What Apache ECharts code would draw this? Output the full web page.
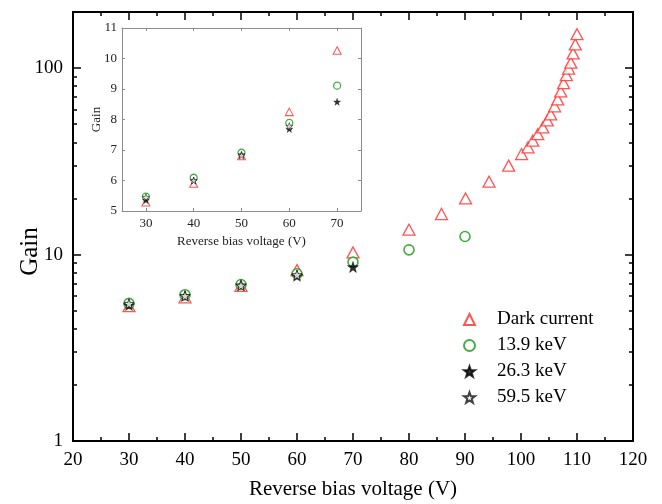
<!DOCTYPE html>
<html>
<head>
<meta charset="utf-8">
<script src="https://cdn.jsdelivr.net/npm/echarts@6/dist/echarts.min.js"></script>
<style>
  html, body { margin: 0; padding: 0; background: #fff; }
  #chart { width: 662px; height: 504px; }
</style>
</head>
<body>
<div id="chart"></div>
<script>
// Gain versus reverse bias voltage
const darkVoltage = [30, 40, 50, 60, 70, 80, 85.8, 90.1, 94.3, 97.8, 100.1, 101.25, 102.1, 103.0, 103.9,
  104.7, 105.3, 106.0, 106.55, 107.1, 107.6, 108.1, 108.5, 108.9, 109.3, 109.7, 110.0];
const darkGain = [5.29, 5.9, 6.8, 8.25, 10.26, 13.6, 16.5, 20.0, 24.6, 30.0, 34.6, 37.6, 40.8, 44.2, 48.1,
  52.4, 56.5, 62.4, 68, 75, 83, 91.6, 99.5, 107, 120, 134, 152];

const kev139Voltage = [30, 40, 50, 60, 70, 80, 90];
const kev139Gain = [5.47, 6.09, 6.91, 7.89, 9.11, 10.6, 12.5];

const kev263Voltage = [30, 40, 50, 60, 70];
const kev263Gain = [5.36, 6.0, 6.85, 7.69, 8.58];

const kev595Voltage = [30, 40, 50, 60];
const kev595Gain = [5.45, 6.0, 6.82, 7.78];

const seriesNames = ['Dark current', '13.9 keV', '26.3 keV', '59.5 keV'];

const mainYLabels = [1, 10, 100];
const mainYMinor = [2, 3, 4, 5, 6, 7, 8, 9, 20, 30, 40, 50, 60, 70, 80, 90];
const insetXTicks = [30, 40, 50, 60, 70];

const FONT = 'Liberation Serif';
const STAR = 'path://M0,-10L2.35,-3.24L9.51,-3.09L3.8,1.24L5.88,8.09L0,4L-5.88,8.09L-3.8,1.24L-9.51,-3.09L-2.35,-3.24Z';

function pairs(xs, ys, maxX) {
  const out = [];
  for (let i = 0; i < xs.length; i++) {
    if (maxX === undefined || xs[i] <= maxX) out.push([xs[i], ys[i]]);
  }
  return out;
}

const styles = [
  { symbol: 'triangle', itemStyle: { color: '#fff', borderColor: '#ff2a2a', borderWidth: 1.3 } },
  { symbol: 'circle', itemStyle: { color: '#fff', borderColor: '#149a14', borderWidth: 1.6 } },
  { symbol: STAR, itemStyle: { color: '#000', borderColor: '#000', borderWidth: 0.5 } },
  { symbol: STAR, itemStyle: { color: '#fff', borderColor: '#111', borderWidth: 0.9 } }
];
const mainSizes = [[12, 11], 10, 11, 10];
const insetSizes = [[8, 7.5], 7, 7, 7];
const dataSets = [
  [darkVoltage, darkGain],
  [kev139Voltage, kev139Gain],
  [kev263Voltage, kev263Gain],
  [kev595Voltage, kev595Gain]
];

const series = [];
dataSets.forEach((d, i) => {
  series.push({
    name: seriesNames[i], type: 'scatter', xAxisIndex: 0, yAxisIndex: 0,
    symbol: styles[i].symbol, symbolSize: mainSizes[i], itemStyle: styles[i].itemStyle,
    data: pairs(d[0], d[1]), z: 3 + i, emphasis: { disabled: true }
  });
});
dataSets.forEach((d, i) => {
  series.push({
    name: seriesNames[i], type: 'scatter', xAxisIndex: 2, yAxisIndex: 4,
    symbol: styles[i].symbol, symbolSize: insetSizes[i],
    itemStyle: Object.assign({}, styles[i].itemStyle, { borderWidth: styles[i].itemStyle.borderWidth * 0.8 }),
    data: pairs(d[0], d[1], 70), z: 10 + i, emphasis: { disabled: true }
  });
});

const black = '#000';
const gray = '#8c8c8c';

function mainX(position, withLabels) {
  return {
    type: 'value', gridIndex: 0, position: position, min: 20, max: 120, interval: 10,
    axisLine: { show: true, onZero: false, lineStyle: { color: black, width: 2 } },
    axisTick: { show: true, inside: true, length: 8, lineStyle: { color: black, width: 1.5 } },
    minorTick: { show: true, splitNumber: 2, length: 4, lineStyle: { color: black, width: 1.5 } },
    splitLine: { show: false },
    axisLabel: { show: withLabels, color: black, fontFamily: FONT, fontSize: 19, margin: 10 },
    name: withLabels ? 'Reverse bias voltage (V)' : '',
    nameLocation: 'middle', nameGap: 38, nameMoveOverlap: false,
    nameTextStyle: { color: black, fontFamily: FONT, fontSize: 21 }
  };
}

function mainY(position, ticks, len, withLabels) {
  return {
    type: 'log', logBase: 10, gridIndex: 0, position: position, min: 1, max: 200,
    axisLine: { show: true, onZero: false, lineStyle: { color: black, width: 2 } },
    axisTick: { show: true, inside: true, length: len, customValues: ticks, lineStyle: { color: black, width: 1.5 } },
    splitLine: { show: false },
    minorTick: { show: false },
    axisLabel: { show: withLabels, customValues: mainYLabels, color: black, fontFamily: FONT, fontSize: 19, margin: 10 },
    name: withLabels ? 'Gain' : '',
    nameLocation: 'middle', nameGap: 30, nameMoveOverlap: false,
    nameTextStyle: { color: black, fontFamily: FONT, fontSize: 25, padding: [0, 50, 0, 0] }
  };
}

function insetX(position, withLabels) {
  return {
    type: 'value', gridIndex: 1, position: position, min: 25, max: 75, z: 5,
    axisLine: { show: true, onZero: false, lineStyle: { color: gray, width: 1 } },
    axisTick: { show: true, inside: true, length: 3, customValues: insetXTicks, lineStyle: { color: gray, width: 1 } },
    splitLine: { show: false },
    axisLabel: { show: withLabels, customValues: insetXTicks, color: '#222', fontFamily: FONT, fontSize: 13, margin: 6 },
    name: withLabels ? 'Reverse bias voltage (V)' : '',
    nameLocation: 'middle', nameGap: 24, nameMoveOverlap: false,
    nameTextStyle: { color: '#222', fontFamily: FONT, fontSize: 13 }
  };
}

function insetY(position, withLabels) {
  return {
    type: 'value', gridIndex: 1, position: position, min: 5, max: 11, interval: 1, z: 5,
    axisLine: { show: true, onZero: false, lineStyle: { color: gray, width: 1 } },
    axisTick: { show: true, inside: true, length: 3, lineStyle: { color: gray, width: 1 } },
    splitLine: { show: false },
    axisLabel: { show: withLabels, color: '#222', fontFamily: FONT, fontSize: 13, margin: 5 },
    name: withLabels ? 'Gain' : '',
    nameLocation: 'middle', nameGap: 19, nameMoveOverlap: false,
    nameTextStyle: { color: '#222', fontFamily: FONT, fontSize: 13 }
  };
}

const chart = echarts.init(document.getElementById('chart'), null, { renderer: 'canvas' });
chart.setOption({
  animation: false,
  backgroundColor: '#fff',
  grid: [
    { left: 73, top: 12, width: 560, height: 429, containLabel: false, outerBoundsMode: 'none' },
    { left: 122, top: 28, width: 239, height: 183, containLabel: false, outerBoundsMode: 'none',
      show: true, backgroundColor: '#fff', borderWidth: 0, z: 1 }
  ],
  xAxis: [mainX('bottom', true), mainX('top', false), insetX('bottom', true), insetX('top', false)],
  yAxis: [
    mainY('left', mainYLabels, 8, true),
    mainY('left', mainYMinor, 4, false),
    mainY('right', mainYLabels, 8, false),
    mainY('right', mainYMinor, 4, false),
    insetY('left', true),
    insetY('right', false)
  ],
  legend: {
    orient: 'vertical', left: 463, top: 310, padding: 0,
    data: seriesNames,
    itemWidth: 11, itemHeight: 11, itemGap: 7,
    textStyle: { color: black, fontFamily: FONT, fontSize: 19, padding: [0, 0, 0, 17] },
    selectedMode: false
  },
  series: series
});
</script>
</body>
</html>
